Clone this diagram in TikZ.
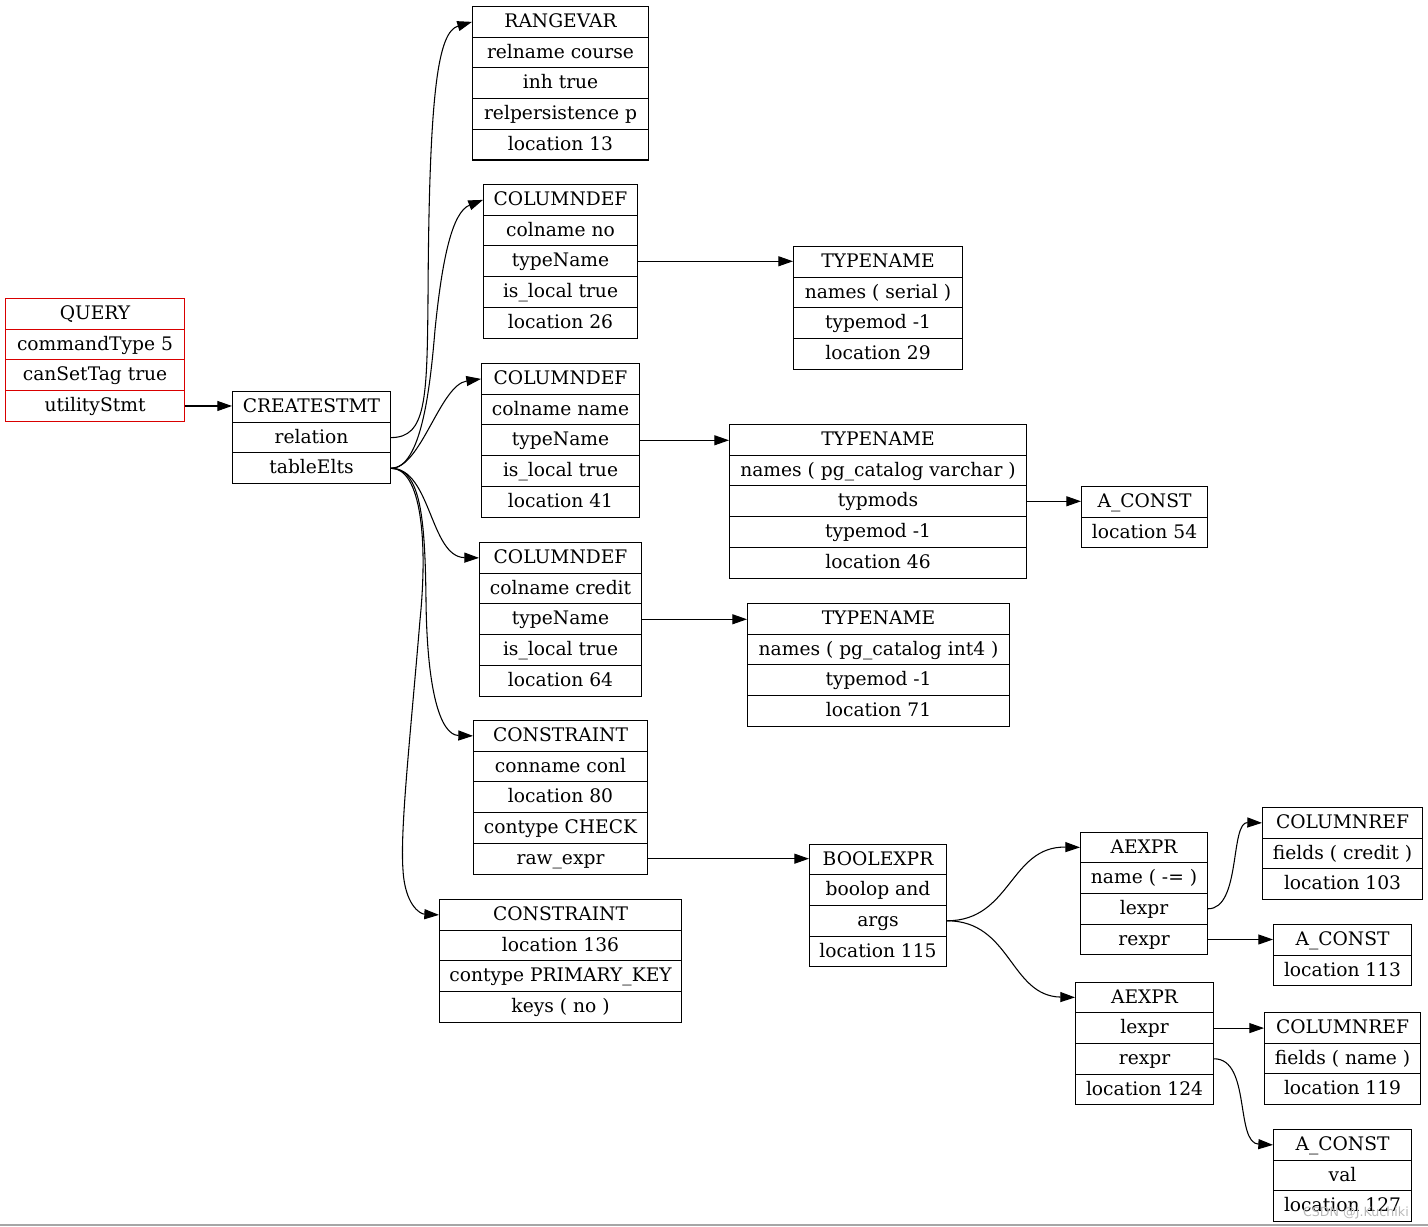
\documentclass[tikz,border=0pt]{standalone}
\usepackage{fontspec}
\setmainfont{DejaVu Serif}
\newfontfamily\wmfont{DejaVu Sans}
\usetikzlibrary{arrows.meta}
\tikzset{
  fld/.style={draw=black, line width=0.8pt, rectangle, inner sep=0pt,
    minimum height=23.025pt, text height=10.75pt, text depth=2.25pt,
    font=\fontsize{14}{16}\selectfont},
  redfld/.style={fld, draw=red!85!black},
  lnk/.style={line width=0.8pt, -{Triangle[length=11pt,width=7.5pt]}},
}
\newcommand\rec[6][fld]{%
  \pgfmathsetmacro\recw{(#4-#3)*0.75}%
  \foreach \t [count=\i from 0] in {#6} {
    \node[#1, minimum width=\recw pt, anchor=north west] (#2-\i) at (#3, {#5+\i*30.7}) {\t};
  }%
}
\begin{document}
\begin{tikzpicture}[x=0.75pt, y=-0.75pt]
\useasboundingbox (0,0) rectangle (1428,1227);

\rec[redfld]{q}{5}{184}{298}{QUERY, commandType 5, canSetTag true, utilityStmt}
\rec{cs}{232}{390}{391}{CREATESTMT, relation, tableElts}
\rec{rv}{472}{648}{6}{RANGEVAR, relname course, inh true, relpersistence p, location 13}
\rec{cd1}{483}{637}{184}{COLUMNDEF, colname no, typeName, is\_local true, location 26}
\rec{tn1}{793}{962}{246}{TYPENAME, names ( serial ), typemod -1, location 29}
\rec{cd2}{481}{639}{363}{COLUMNDEF, colname name, typeName, is\_local true, location 41}
\rec{tn2}{729}{1026}{424}{TYPENAME, names ( pg\_catalog varchar ), typmods, typemod -1, location 46}
\rec{ac1}{1081}{1207}{486}{A\_CONST, location 54}
\rec{cd3}{479}{641}{542}{COLUMNDEF, colname credit, typeName, is\_local true, location 64}
\rec{tn3}{747}{1009}{603}{TYPENAME, names ( pg\_catalog int4 ), typemod -1, location 71}
\rec{con1}{473}{647}{720}{CONSTRAINT, conname conl, location 80, contype CHECK, raw\_expr}
\rec{be}{809}{946}{843.5}{BOOLEXPR, boolop and, args, location 115}
\rec{con2}{439}{681}{899}{CONSTRAINT, location 136, contype PRIMARY\_KEY, keys ( no )}
\rec{ae1}{1080}{1207}{831.5}{AEXPR, name ( -= ), lexpr, rexpr}
\rec{cr1}{1262}{1422}{807}{COLUMNREF, fields ( credit ), location 103}
\rec{ac2}{1273}{1411}{924}{A\_CONST, location 113}
\rec{ae2}{1075}{1213}{981.5}{AEXPR, lexpr, rexpr, location 124}
\rec{cr2}{1264}{1420}{1012}{COLUMNREF, fields ( name ), location 119}
\rec{ac3}{1273}{1411}{1129}{A\_CONST, val, location 127}

% straight links
\draw[lnk] (q-3.east) -- (q-3.east -| cs-0.west);
\draw[lnk] (cd1-2.east) -- (cd1-2.east -| tn1-0.west);
\draw[lnk] (cd2-2.east) -- (cd2-2.east -| tn2-0.west);
\draw[lnk] (tn2-2.east) -- (tn2-2.east -| ac1-0.west);
\draw[lnk] (cd3-2.east) -- (cd3-2.east -| tn3-0.west);
\draw[lnk] (con1-4.east) -- (con1-4.east -| be-0.west);
\draw[lnk] (ae1-3.east) -- (ae1-3.east -| ac2-0.west);
\draw[lnk] (ae2-1.east) -- (ae2-1.east -| cr2-0.west);

% curved links
\draw[lnk] (cs-1.east) .. controls +(35,0) and (427,400) .. (428,300)
  .. controls (429,90) and (438,32) .. (rv-0.west);
\draw[lnk] (cs-2.east) .. controls +(30,0) and (430,390) .. (435,330)
  .. controls (442,260) and (452,212) .. (cd1-0.west);
\draw[lnk] (cs-2.east) .. controls +(30,0) and (440,385) .. (cd2-0.west);
\draw[lnk] (cs-2.east) .. controls +(40,0) and (430,557) .. (cd3-0.west);
\draw[lnk] (cs-2.east) .. controls +(30,0) and (425,520) .. (426,600)
  .. controls (427,690) and (440,735) .. (con1-0.west);
\draw[lnk] (cs-2.east) .. controls +(30,0) and (428,540) .. (420,620)
  .. controls (410,740) and (400,830) .. (403,870)
  .. controls (405,905) and (420,914) .. (con2-0.west);
\draw[lnk] (be-2.east) .. controls +(64,0) and (1010,846) .. (ae1-0.west);
\draw[lnk] (be-2.east) .. controls +(64,0) and (1010,996) .. (ae2-0.west);
\draw[lnk] (ae1-2.east) .. controls +(33,0) and (1230,822) .. (cr1-0.west);
\draw[lnk] (ae2-2.east) .. controls +(37,0) and (1235,1143) .. (ac3-0.west);

% bottom rule and watermark
\draw[line width=1.5pt, black!35] (0,1225) -- (1428,1225);
\node[text=black!28, font=\wmfont\fontsize{9.5}{10}\selectfont, anchor=east, inner sep=0pt] (wm) at (1409,1213) {CSDN @J.Kuchiki};
\end{tikzpicture}
\end{document}
